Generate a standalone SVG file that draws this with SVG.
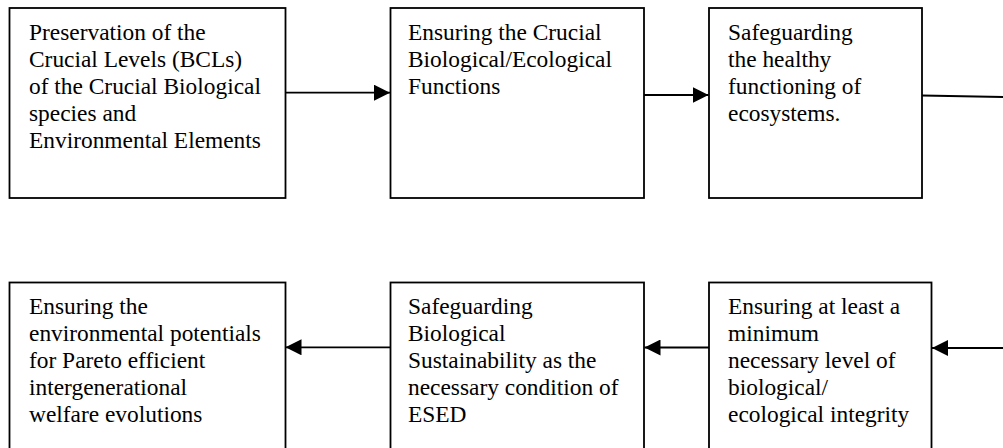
<svg xmlns="http://www.w3.org/2000/svg" width="1003" height="448" viewBox="0 0 1003 448">
<style>
.box{fill:#fff;stroke:#000;stroke-width:1.8}
.t{font-family:"Liberation Serif","Times New Roman",serif;font-size:23.4px;fill:#000}
.c{stroke:#000;stroke-width:1.8;fill:none}
</style>
<defs>
<marker id="ah" markerUnits="userSpaceOnUse" markerWidth="16" markerHeight="16" viewBox="0 0 14 14" refX="14" refY="7" orient="auto">
<polygon points="0,0 14,7 0,14" fill="#000"/>
</marker>
</defs>
<rect width="1003" height="448" fill="#fff"/>
<g id="n1">
<rect class="box" x="9.5" y="8" width="276" height="190"/>
<text class="t" x="29" y="40">Preservation of the</text>
<text class="t" x="29" y="67">Crucial Levels (BCLs)</text>
<text class="t" x="29" y="94">of the Crucial Biological</text>
<text class="t" x="29" y="121">species and</text>
<text class="t" x="29" y="148">Environmental Elements</text>
</g>
<g id="n2">
<rect class="box" x="390.5" y="8" width="253.5" height="190"/>
<text class="t" x="408" y="40">Ensuring the Crucial</text>
<text class="t" x="408" y="67">Biological/Ecological</text>
<text class="t" x="408" y="94">Functions</text>
</g>
<g id="n3">
<rect class="box" x="709" y="8" width="213" height="190"/>
<text class="t" x="728" y="40">Safeguarding</text>
<text class="t" x="728" y="67">the healthy</text>
<text class="t" x="728" y="94">functioning of</text>
<text class="t" x="728" y="121">ecosystems.</text>
</g>
<g id="n4">
<rect class="box" x="9.5" y="282.5" width="276" height="200"/>
<text class="t" x="29" y="314">Ensuring the</text>
<text class="t" x="29" y="341">environmental potentials</text>
<text class="t" x="29" y="368">for Pareto efficient</text>
<text class="t" x="29" y="395">intergenerational</text>
<text class="t" x="29" y="422">welfare evolutions</text>
</g>
<g id="n5">
<rect class="box" x="390.5" y="282.5" width="253.5" height="200"/>
<text class="t" x="408" y="314">Safeguarding</text>
<text class="t" x="408" y="341">Biological</text>
<text class="t" x="408" y="368">Sustainability as the</text>
<text class="t" x="408" y="395">necessary condition of</text>
<text class="t" x="408" y="422">ESED</text>
</g>
<g id="n6">
<rect class="box" x="709" y="282.5" width="222.5" height="200"/>
<text class="t" x="728" y="314">Ensuring at least a</text>
<text class="t" x="728" y="341">minimum</text>
<text class="t" x="728" y="368">necessary level of</text>
<text class="t" x="728" y="395">biological/</text>
<text class="t" x="728" y="422">ecological integrity</text>
</g>
<g id="connectors">
<line class="c" x1="285.5" y1="92.7" x2="390" y2="92.7" marker-end="url(#ah)"/>
<line class="c" x1="644" y1="95" x2="708.5" y2="95" marker-end="url(#ah)"/>
<line class="c" x1="922" y1="95.5" x2="1003" y2="97"/>
<line class="c" x1="1003" y1="348" x2="932" y2="348" marker-end="url(#ah)"/>
<line class="c" x1="709" y1="347.5" x2="644.5" y2="347.5" marker-end="url(#ah)"/>
<line class="c" x1="390.5" y1="347.3" x2="285.5" y2="347.3" marker-end="url(#ah)"/>
</g>
</svg>
